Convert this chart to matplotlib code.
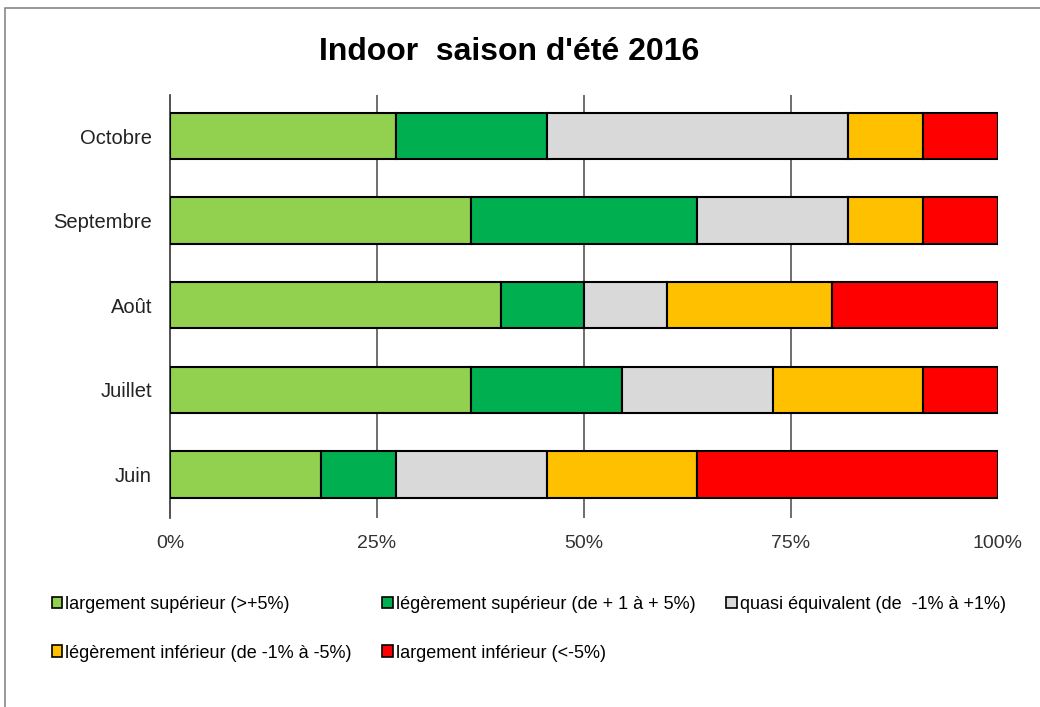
import numpy as np
import matplotlib.pyplot as plt
from matplotlib.patches import Patch, Rectangle

plt.rcParams['font.family'] = ['Liberation Sans', 'DejaVu Sans']

months = ['Juin', 'Juillet', 'Août', 'Septembre', 'Octobre']
labels = ['largement supérieur (>+5%)',
          'légèrement supérieur (de + 1 à + 5%)',
          'quasi équivalent (de  -1% à +1%)',
          'légèrement inférieur (de -1% à -5%)',
          'largement inférieur (<-5%)']
colors = ['#92D050', '#00B050', '#D9D9D9', '#FFC000', '#FF0000']

# share of each category per month (%)
larg_sup = [18.2, 36.4, 40.0, 36.4, 27.3]
leg_sup = [9.1, 18.2, 10.0, 27.3, 18.2]
quasi = [18.2, 18.2, 10.0, 18.2, 36.4]
leg_inf = [18.2, 18.2, 20.0, 9.1, 9.1]
larg_inf = [36.3, 9.0, 20.0, 9.0, 9.0]
series = [larg_sup, leg_sup, quasi, leg_inf, larg_inf]

fig = plt.figure(figsize=(10.4, 7.07), dpi=100)
fig.patches.append(Rectangle((0.005, -0.01), 1.1, 0.998, transform=fig.transFigure,
                             fill=False, edgecolor='#888888', lw=1.2))
ax = fig.add_axes([0.1635, 0.267, 0.796, 0.599])

y = np.arange(len(months))
left = np.zeros(len(months))
for vals, col in zip(series, colors):
    ax.barh(y, vals, left=left, height=0.55, color=col, edgecolor='black',
            linewidth=1.5, zorder=3)
    left += np.array(vals)

ax.set_xlim(0, 100)
ax.set_ylim(-0.52, 4.49)
ax.set_xticks([0, 25, 50, 75, 100])
ax.set_xticklabels(['0%', '25%', '50%', '75%', '100%'], fontsize=14, color='#333333')
ax.set_yticks(y)
ax.set_yticklabels(months, fontsize=14.5, color='#222222')
ax.tick_params(axis='x', length=0, pad=12)
ax.tick_params(axis='y', length=0, pad=13)
for xv in [25, 50, 75]:
    ax.axvline(xv, color='#555555', lw=1.2, zorder=1)
for s in ['top', 'right', 'bottom']:
    ax.spines[s].set_visible(False)
ax.spines['left'].set_color('#333333')
ax.spines['left'].set_linewidth(1.2)

fig.text(0.49, 0.926, "Indoor  saison d'été 2016", ha='center', va='center',
         fontsize=23, fontweight='bold')

handles = [Patch(facecolor=c, edgecolor='black', lw=1.2) for c in colors]
order = [0, 3, 1, 4, 2]
fig.legend([handles[i] for i in order], [labels[i] for i in order], ncol=3,
           loc='upper left', bbox_to_anchor=(0.034, 0.18), frameon=False,
           fontsize=13, handlelength=0.6, handleheight=0.6, handletextpad=0.15,
           columnspacing=1.7, labelspacing=1.75)

fig.savefig('out.png', dpi=100)
